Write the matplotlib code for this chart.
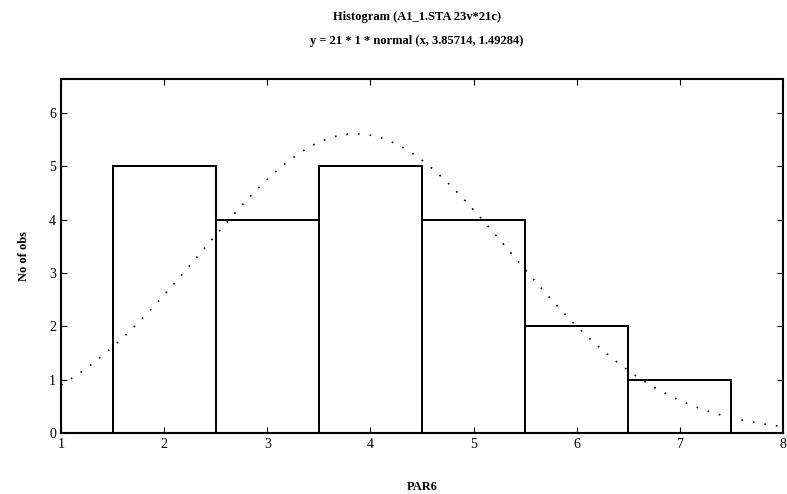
import matplotlib
matplotlib.use("Agg")
import matplotlib.pyplot as plt
import numpy as np

# data
bin_edges = [1.5, 2.5, 3.5, 4.5, 5.5, 6.5, 7.5]
counts = [5, 4, 5, 4, 2, 1]
n_obs = 21
mean_x = 3.85714
sd_x = 1.49284

plt.rcParams['font.family'] = ['Liberation Serif', 'DejaVu Serif']

fig = plt.figure(figsize=(7.87, 4.94), dpi=100)
ax = fig.add_axes([0.0775, 0.1235, 0.9175, 0.7165])

# histogram bars, outline only
ax.stairs(counts, bin_edges, fill=False, color='black', linewidth=1.4)
for left, h in zip(bin_edges[:-1], counts):
    ax.bar(left, h, width=1.0, align='edge', facecolor='none',
           edgecolor='black', linewidth=1.2)

# fitted normal curve
xs = np.linspace(1, 8, 400)
ys = n_obs * 1 * np.exp(-0.5 * ((xs - mean_x) / sd_x) ** 2) / (sd_x * np.sqrt(2 * np.pi))
ax.plot(xs, ys, color='black', linestyle=(0, (1, 6)), linewidth=1.2)

ax.set_xlim(1, 8)
ax.set_ylim(0, 6.64)
ax.set_xticks(range(1, 9))
ax.set_yticks(range(0, 7))
ax.tick_params(direction='in', top=True, right=True, length=4, labelsize=10)
for s in ax.spines.values():
    s.set_linewidth(1.5)

ax.set_xlabel('PAR6', fontsize=9, fontweight='bold', labelpad=22)
ax.set_ylabel('No of obs', fontsize=9, fontweight='bold', labelpad=14)

fig.text(0.53, 0.965, 'Histogram (A1_1.STA 23v*21c)', ha='center', va='center',
         fontsize=9, fontweight='bold')
fig.text(0.53, 0.917, 'y = 21 * 1 * normal (x, 3.85714, 1.49284)', ha='center', va='center',
         fontsize=9, fontweight='bold')

fig.savefig('out.png', dpi=100)
